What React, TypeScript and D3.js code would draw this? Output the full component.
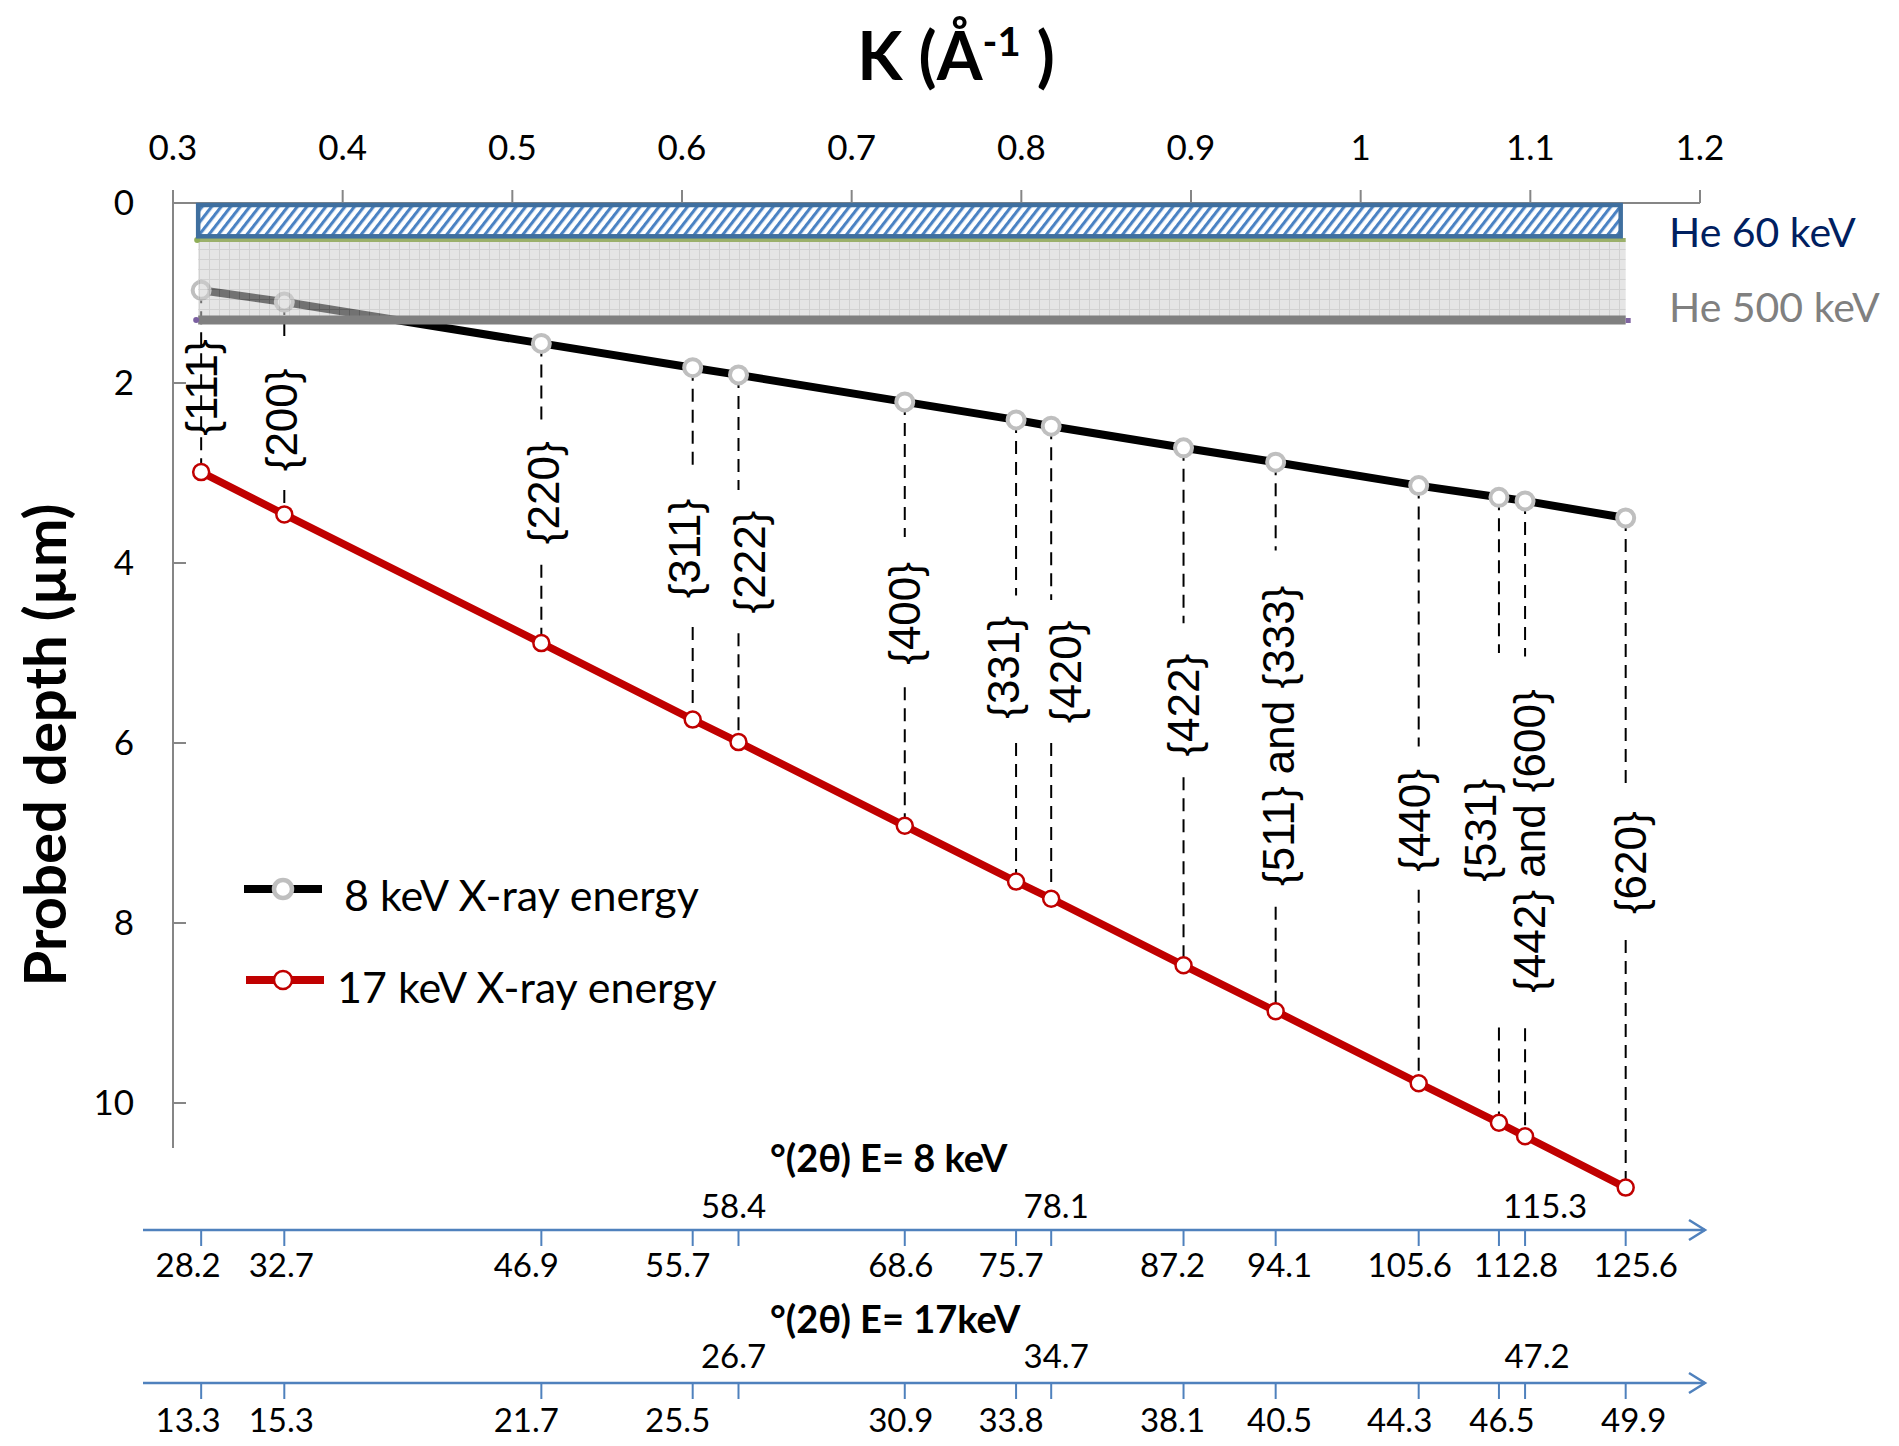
import React from 'react';
import * as d3 from 'd3';

// K = 1/d for each reflection (Å^-1)
const kValues = [0.3166, 0.3656, 0.5171, 0.6063, 0.6333, 0.7313, 0.7969, 0.8176, 0.8956, 0.9499, 1.0342, 1.0815, 1.0969, 1.1562];
const hklLabels = ['{111}', '{200}', '{220}', '{311}', '{222}', '{400}', '{331}', '{420}', '{422}', '{511} and {333}', '{440}', '{531}', '{442} and {600}', '{620}'];
// probed depth (µm)
const depth8keV = [0.97, 1.10, 1.56, 1.83, 1.91, 2.21, 2.41, 2.48, 2.72, 2.88, 3.14, 3.27, 3.31, 3.50];
const depth17keV = [2.99, 3.46, 4.89, 5.74, 5.99, 6.92, 7.54, 7.73, 8.47, 8.98, 9.78, 10.22, 10.37, 10.94];
// 2theta (deg)
const twoTheta8 = ['28.2', '32.7', '46.9', '55.7', '58.4', '68.6', '75.7', '78.1', '87.2', '94.1', '105.6', '112.8', '115.3', '125.6'];
const twoTheta17 = ['13.3', '15.3', '21.7', '25.5', '26.7', '30.9', '33.8', '34.7', '38.1', '40.5', '44.3', '46.5', '47.2', '49.9'];
const raised = [4, 7, 12];

const kTicks = [0.3, 0.4, 0.5, 0.6, 0.7, 0.8, 0.9, 1, 1.1, 1.2];
const depthTicks = [0, 2, 4, 6, 8, 10];

const he60Depth = 0.37;
const he500Top = 0.41;
const he500Depth = 1.3;

// label placement (centre depth, gap in the dashed line, x nudge px)
const labelCenter = [2.05, 2.41, 3.22, 3.84, 3.99, 4.56, 5.16, 5.21, 5.58, 5.92, 6.86, 6.97, 7.09, 7.33];
const labelGap: (number[] | null)[] = [null, [1.56, 3.19], [2.41, 4.02], [2.97, 4.71], [3.19, 4.78], [3.71, 5.38], [4.36, 6.0], [4.41, 6.0], [4.67, 6.38], [3.86, 7.82], [6.04, 7.63], [5.0, 9.16], [5.04, 9.17], [6.52, 8.19]];
const labelNudge = [0, -3, 2, -8, 11, 0, -13, 14, 0, 3, -4, -18, 4, 5];
const nudge8 = [-13, -3, -15, -15, -5, -4, -5, 5, -11, 4, -9, 17, 20, 10];
const nudge17 = [-13, -3, -15, -15, -5, -4, -5, 5, -11, 4, -19, 3, 12, 8];

const FONT = "Lato, 'Open Sans', sans-serif";
const HKL_FONT = "'Liberation Sans', Arial, sans-serif";

export default function App() {
  const x = d3.scaleLinear().domain([0.3, 1.2]).range([173, 1700]);
  const y = d3.scaleLinear().domain([0, 10.5]).range([203, 1148]);
  const path8 = d3.line<number>().x((d, i) => x(kValues[i])).y(d => y(d))(depth8keV) || '';
  const path17 = d3.line<number>().x((d, i) => x(kValues[i])).y(d => y(d))(depth17keV) || '';
  const kMin = d3.min(kValues)!;
  const kMax = d3.max(kValues)!;
  const axisColor = '#868686';
  const blue = '#4f81bd';

  const bottomAxis = (yAxis: number, labels: string[], nudges: number[], title: string, titleY: number, upY: number, downY: number) => (
    <g>
      <text x={770} y={titleY} fontFamily={FONT} fontWeight="bold" fontSize={38}>{title}</text>
      <line x1={143} x2={1705} y1={yAxis} y2={yAxis} stroke={blue} strokeWidth={2.5} />
      <polyline points={`1689,${yAxis - 10} 1705,${yAxis} 1689,${yAxis + 10}`} fill="none" stroke={blue} strokeWidth={2.5} />
      {kValues.map((k, i) => (
        <g key={i}>
          <line x1={x(k)} x2={x(k)} y1={yAxis} y2={yAxis + 16} stroke={blue} strokeWidth={2} />
          <text x={x(k) + nudges[i]} y={raised.includes(i) ? upY : downY} textAnchor="middle" fontFamily={FONT} fontSize={33}>{labels[i]}</text>
        </g>
      ))}
    </g>
  );

  return (
    <svg width={1899} height={1446} style={{ position: 'absolute', left: 0, top: 0, background: '#fff' }}>
      <defs>
        <pattern id="hatch" width={7.5} height={7.5} patternUnits="userSpaceOnUse" patternTransform="rotate(38)">
          <rect width={7.5} height={7.5} fill="#fff" />
          <line x1={1.5} y1={0} x2={1.5} y2={7.5} stroke="#4a82c3" strokeWidth={3.2} />
        </pattern>
        <pattern id="grid" width={10} height={10} patternUnits="userSpaceOnUse">
          <rect width={10} height={10} fill="#cfcfcf" />
          <path d="M9.5 0V10M0 9.5H10" stroke="#ababab" strokeWidth={1} />
        </pattern>
      </defs>

      {/* title */}
      <text x={956} y={80} textAnchor="middle" fontFamily={FONT} fontWeight="bold" fontSize={66}>
        K (Å<tspan dy={-24} fontSize={40}>-1</tspan><tspan dy={24}> )</tspan>
      </text>

      {/* top axis */}
      <line x1={x(0.3)} x2={x(1.2)} y1={y(0)} y2={y(0)} stroke={axisColor} strokeWidth={2} />
      {kTicks.map(t => (
        <g key={t}>
          <line x1={x(t)} x2={x(t)} y1={y(0) - 13} y2={y(0)} stroke={axisColor} strokeWidth={2} />
          <text x={x(t)} y={160} textAnchor="middle" fontFamily={FONT} fontSize={35}>{t}</text>
        </g>
      ))}

      {/* left axis */}
      <line x1={x(0.3)} x2={x(0.3)} y1={y(0)} y2={y(10.5)} stroke={axisColor} strokeWidth={2} />
      {depthTicks.map(t => (
        <g key={t}>
          <line x1={x(0.3)} x2={x(0.3) + 13} y1={y(t)} y2={y(t)} stroke={axisColor} strokeWidth={2} />
          <text x={134} y={y(t) + 12} textAnchor="end" fontFamily={FONT} fontSize={35}>{t}</text>
        </g>
      ))}
      <text transform={`translate(66,745) rotate(-90)`} textAnchor="middle" fontFamily={FONT} fontWeight="bold" fontSize={58}>Probed depth (µm)</text>

      {/* dashed guides */}
      {kValues.map((k, i) => {
        const g = labelGap[i];
        const segs = g ? [[depth8keV[i], g[0]], [g[1], depth17keV[i]]] : [[depth8keV[i], depth17keV[i]]];
        return segs.filter(s => s[1] > s[0]).map((s, j) => (
          <line key={`${i}-${j}`} x1={x(k)} x2={x(k)} y1={y(s[0])} y2={y(s[1])} stroke="#000" strokeWidth={2} strokeDasharray="13,8" />
        ));
      })}

      {/* 8 keV */}
      <path d={path8} fill="none" stroke="#000" strokeWidth={8} />
      {kValues.map((k, i) => (
        <circle key={i} cx={x(k)} cy={y(depth8keV[i])} r={8.5} fill="#fff" stroke="#bfbfbf" strokeWidth={4} />
      ))}

      {/* He 500 keV region */}
      <rect x={x(kMin) - 3} y={y(he500Top)} width={x(kMax) - x(kMin) + 3} height={y(he500Depth) - y(he500Top)} fill="url(#grid)" opacity={0.55} />
      <line x1={x(kMin) - 3} x2={x(kMax)} y1={y(he500Top)} y2={y(he500Top)} stroke="#9bb06a" strokeWidth={4} />
      <circle cx={x(kMin) - 4} cy={y(he500Top)} r={3} fill="#8fae58" />
      <line x1={x(kMin) - 3} x2={x(kMax)} y1={y(he500Depth)} y2={y(he500Depth)} stroke="#808080" strokeWidth={9} />
      <circle cx={x(kMin) - 5} cy={y(he500Depth)} r={3} fill="#7a5fa0" />
      <rect x={x(kMax)} y={y(he500Depth) - 2} width={5} height={5} fill="#8064a2" />

      {/* He 60 keV */}
      <rect x={x(kMin) - 3} y={y(0) + 2} width={x(kMax) - x(kMin) - 2} height={y(he60Depth) - y(0) - 2} fill="url(#hatch)" stroke="#3f6f9f" strokeWidth={4.5} />

      <text x={1669} y={247} fontFamily={FONT} fontSize={41} fill="#002060">He 60 keV</text>
      <text x={1669} y={322} fontFamily={FONT} fontSize={41} fill="#808080">He 500 keV</text>

      {/* 17 keV */}
      <path d={path17} fill="none" stroke="#c00000" strokeWidth={7.5} />
      {kValues.map((k, i) => (
        <circle key={i} cx={x(k)} cy={y(depth17keV[i])} r={8} fill="#fff" stroke="#c00000" strokeWidth={2.5} />
      ))}

      {/* hkl labels */}
      {kValues.map((k, i) => (
        <text key={i} transform={`translate(${x(k) + labelNudge[i]},${y(labelCenter[i])}) rotate(-90)`} textAnchor="middle" dominantBaseline="central" fontFamily={HKL_FONT} fontSize={44}>{hklLabels[i]}</text>
      ))}

      {/* legend */}
      <line x1={244} x2={322} y1={889} y2={889} stroke="#000" strokeWidth={8} />
      <circle cx={283} cy={889} r={9} fill="#fff" stroke="#bfbfbf" strokeWidth={4.5} />
      <text x={344} y={911} fontFamily={FONT} fontSize={43}>8 keV X-ray energy</text>
      <line x1={246} x2={324} y1={980} y2={980} stroke="#c00000" strokeWidth={8} />
      <circle cx={283} cy={980} r={9} fill="#fff" stroke="#c00000" strokeWidth={2.5} />
      <text x={337} y={1003} fontFamily={FONT} fontSize={43}>17 keV X-ray energy</text>

      {bottomAxis(1230, twoTheta8, nudge8, '°(2θ) E= 8 keV', 1172, 1218, 1277)}
      {bottomAxis(1383, twoTheta17, nudge17, '°(2θ) E= 17keV', 1333, 1368, 1432)}
    </svg>
  );
}
